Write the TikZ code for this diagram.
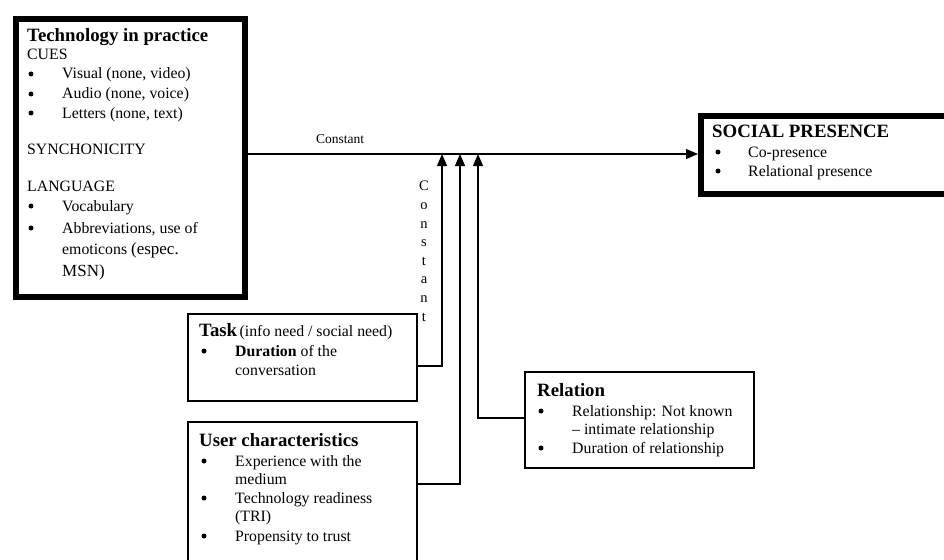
\documentclass[tikz,border=0pt]{standalone}
\usepackage{fontspec}
\setmainfont{Liberation Serif}
\usetikzlibrary{arrows.meta}
\begin{document}
\begin{tikzpicture}[x=1pt,y=-1pt,
  thickbox/.style={draw, line width=6pt, inner sep=0pt, anchor=north west},
  thinbox/.style={draw, line width=2.2pt, inner sep=0pt, anchor=north west},
  txt/.style={anchor=base west, inner sep=0pt, font=\fontsize{15.8}{18}\selectfont},
  ttl/.style={anchor=base west, inner sep=0pt, font=\fontsize{18.8}{21}\selectfont\bfseries},
  bul/.style={circle, fill, inner sep=0pt, minimum size=5pt},
  conn/.style={line width=1.1pt},
  arr/.style={line width=1.1pt, -{Triangle[length=12pt, width=10pt]}}
]
\useasboundingbox (0,0) rectangle (944,559);
\clip (0,0) rectangle (944,559);
\fill[white] (0,0) rectangle (944,559);

% boxes
\node[thickbox, minimum width=229pt, minimum height=278pt] (tech) at (13,16) {};
\node[thickbox, minimum width=260pt, minimum height=78pt] (sp) at (698,113) {};
\node[thinbox, minimum width=229pt, minimum height=87pt] (task) at (187,313) {};
\node[thinbox, minimum width=229pt, minimum height=160pt] (user) at (187,421) {};
\node[thinbox, minimum width=229pt, minimum height=96pt] (rel) at (524,371) {};

% Technology in practice
\node[ttl] (t0) at (27,42) {Technology in practice};
\node[txt] (t1) at (27,60) {CUES};
\node[bul] (b1) at (31,74) {};
\node[txt] (t2) at (62,79) {Visual (none, video)};
\node[bul] (b2) at (31,94) {};
\node[txt] (t3) at (62,99) {Audio (none, voice)};
\node[bul] (b3) at (31,113) {};
\node[txt] (t4) at (62,118) {Letters (none, text)};
\node[txt] (t5) at (27,154) {SYNCHONICITY};
\node[txt] (t6) at (27,191) {LANGUAGE};
\node[bul] (b4) at (31,206) {};
\node[txt] (t7) at (62,211) {Vocabulary};
\node[bul] (b5) at (31,228) {};
\node[txt] (t8) at (62,233) {Abbreviations, use of};
\node[txt] (t9) at (62,254) {emoticons {\fontsize{17}{19}\selectfont (espec.}};
\node[txt] (t10) at (62,276) {\fontsize{17}{19}\selectfont MSN)};

% Social presence
\node[ttl] (s0) at (712,137) {SOCIAL PRESENCE};
\node[bul] (sb1) at (718,152) {};
\node[txt] (s1) at (748,157) {Co-presence};
\node[bul] (sb2) at (718,171) {};
\node[txt] (s2) at (748,176) {Relational presence};

% Task
\node[anchor=base west, inner sep=0pt] (k0) at (199,336) {{\fontsize{18.8}{21}\selectfont\bfseries Task} {\fontsize{15.8}{18}\selectfont (info need / social need)}};
\node[bul] (kb1) at (204,351) {};
\node[txt] (k1) at (235,356) {\textbf{Duration} of the};
\node[txt] (k2) at (235,375) {conversation};

% User characteristics
\node[ttl] (u0) at (199,446) {User characteristics};
\node[bul] (ub1) at (204,461) {};
\node[txt] (u1) at (235,466) {Experience with the};
\node[txt] (u2) at (235,484) {medium};
\node[bul] (ub2) at (204,498) {};
\node[txt] (u3) at (235,503) {Technology readiness};
\node[txt] (u4) at (235,521) {(TRI)};
\node[bul] (ub3) at (204,536) {};
\node[txt] (u5) at (235,541) {Propensity to trust};

% Relation
\node[ttl] (r0) at (537,396) {Relation};
\node[bul] (rb1) at (541,411) {};
\node[txt] (r1) at (572,416) {Relationship: Not known};
\node[txt] (r2) at (572,434) {– intimate relationship};
\node[bul] (rb2) at (541,448) {};
\node[txt] (r3) at (572,453) {Duration of relationship};

% connectors
\coordinate (m1) at (442,154);
\coordinate (m2) at (460,154);
\coordinate (m3) at (478,154);
\draw[arr] (tech.east |- 0,154) -- (sp.west |- 0,154);
\node[anchor=base, inner sep=0pt, font=\fontsize{13.5}{16}\selectfont] (clab) at (340,143) {Constant};
\draw[arr] (task.east |- 0,366) -| (m1);
\draw[arr] (user.east |- 0,484) -| (m2);
\draw[arr] (rel.west |- 0,418) -| (m3);
\node[anchor=north, inner sep=0pt, align=center, font=\fontsize{14.5}{18.6}\selectfont] (vlab) at (424,181) {C\\o\\n\\s\\t\\a\\n\\t};
\end{tikzpicture}
\end{document}
